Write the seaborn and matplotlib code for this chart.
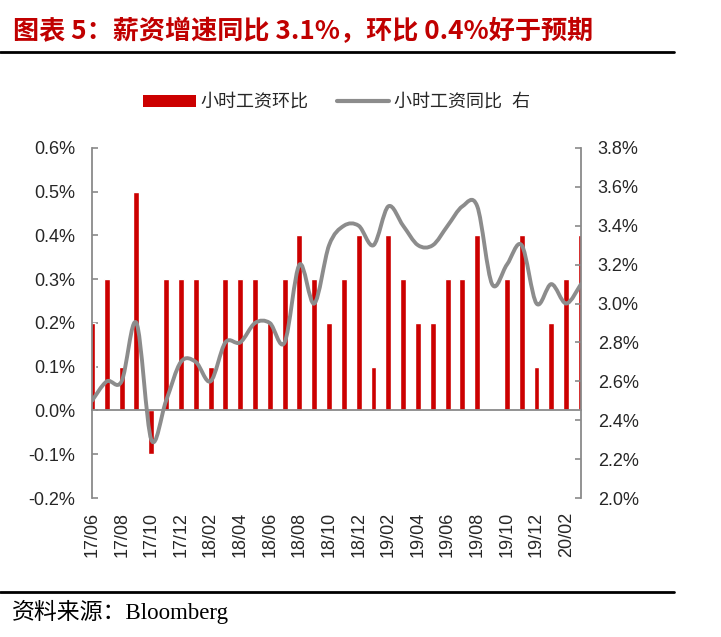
import numpy as np
import pandas as pd
import matplotlib
matplotlib.use('Agg')
import matplotlib.pyplot as plt
from matplotlib.path import Path
from matplotlib.patches import PathPatch, Patch
from matplotlib.lines import Line2D
from matplotlib.ticker import FuncFormatter, MultipleLocator
import seaborn as sns


# Monthly data
months = ['17/06', '17/07', '17/08', '17/09', '17/10', '17/11', '17/12',
          '18/01', '18/02', '18/03', '18/04', '18/05', '18/06', '18/07',
          '18/08', '18/09', '18/10', '18/11', '18/12', '19/01', '19/02',
          '19/03', '19/04', '19/05', '19/06', '19/07', '19/08', '19/09',
          '19/10', '19/11', '19/12', '20/01', '20/02', '20/03']
# hourly earnings, month over month (%), left axis
mom = [0.2, 0.3, 0.1, 0.5, -0.1, 0.3, 0.3,
       0.3, 0.1, 0.3, 0.3, 0.3, 0.2, 0.3,
       0.4, 0.3, 0.2, 0.3, 0.4, 0.1, 0.4,
       0.3, 0.2, 0.2, 0.3, 0.3, 0.4, 0.0,
       0.3, 0.4, 0.1, 0.2, 0.3, 0.4]
# hourly earnings, year over year (%), right axis
yoy = [2.5, 2.6, 2.6, 2.9, 2.3, 2.5, 2.7,
       2.7, 2.6, 2.8, 2.8, 2.9, 2.9, 2.8,
       3.2, 3.0, 3.3, 3.4, 3.4, 3.3, 3.5,
       3.4, 3.3, 3.3, 3.4, 3.5, 3.5, 3.1,
       3.2, 3.3, 3.0, 3.1, 3.0, 3.1]

legend_labels = ['小时工资环比', '小时工资同比  右']
title = '图表 5：薪资增速同比 3.1%，环比 0.4%好于预期'
source = '资料来源：Bloomberg'

red = '#cc0000'
grey = '#8c8c8c'
spine_grey = '#8a8a8a'

df = pd.DataFrame({'month': months, 'mom': mom, 'yoy': yoy})
n = len(df)

sns.set_style('white')
plt.rcParams['font.family'] = ['Liberation Sans', 'Noto Sans CJK SC']

fig = plt.figure(figsize=(7.21, 6.37), dpi=100)
ax = fig.add_axes([0.1276, 0.2182, 0.6782, 0.5495])

sns.barplot(data=df, x='month', y='mom', color=red, saturation=1,
            width=0.4, ax=ax)
ax.set_xlim(0, n - 1)
ax.set_ylim(-0.2, 0.6)
ax.yaxis.set_major_locator(MultipleLocator(0.1))
ax.yaxis.set_major_formatter(FuncFormatter(lambda v, p: f'{v:.1f}%'))
ax.set_xticks(range(0, n, 2))
ax.set_xticklabels(months[::2])
ax.set_xlabel('')
ax.set_ylabel('')

ax.spines['bottom'].set_position(('data', 0))
for s in ['top', 'right']:
    ax.spines[s].set_visible(False)
for s in ['left', 'bottom']:
    ax.spines[s].set_color(spine_grey)
    ax.spines[s].set_linewidth(1.3)
ax.tick_params(axis='x', direction='in', length=4, width=1.2,
               color=spine_grey, pad=73, labelsize=13, labelrotation=90)
ax.tick_params(axis='y', direction='in', length=4, width=1.2,
               color=spine_grey, pad=12, labelsize=13, left=True)

# Right axis: smoothed line (bezier segments through each data point)
ax2 = ax.twinx()
ax2.set_ylim(2.0, 3.8)
ax2.yaxis.set_major_locator(MultipleLocator(0.2))
ax2.yaxis.set_major_formatter(FuncFormatter(lambda v, p: f'{v:.1f}%'))
for s in ['top', 'left', 'bottom']:
    ax2.spines[s].set_visible(False)
ax2.spines['right'].set_color(spine_grey)
ax2.spines['right'].set_linewidth(1.3)
ax2.tick_params(axis='y', direction='in', length=4, width=1.2,
                color=spine_grey, pad=12, labelsize=13, right=True)

xs = np.arange(n, dtype=float)
ys = np.array(df['yoy'], dtype=float)
pts = np.column_stack([xs, ys])
verts = [tuple(pts[0])]
codes = [Path.MOVETO]
for i in range(n - 1):
    p0 = pts[i - 1] if i > 0 else pts[i]
    p1 = pts[i]
    p2 = pts[i + 1]
    p3 = pts[i + 2] if i + 2 < n else pts[i + 1]
    c1 = p1 + (p2 - p0) / 6
    c2 = p2 - (p3 - p1) / 6
    verts += [tuple(c1), tuple(c2), tuple(p2)]
    codes += [Path.CURVE4] * 3
ax2.add_patch(PathPatch(Path(verts, codes), fill=False, edgecolor=grey,
                        lw=2.8, capstyle='round', joinstyle='round'))

handles = [Patch(facecolor=red, edgecolor='none'),
           Line2D([], [], color=grey, lw=3)]
ax2.legend(handles, legend_labels, loc='center', bbox_to_anchor=(0.5, 1.13),
           ncol=2, frameon=False, fontsize=13, handlelength=2.9,
           handleheight=0.65, handletextpad=0.25, columnspacing=1.6)

# Title, rules and source
fig.text(13 / 721, 1 - 32 / 637, title, color='#c00000', fontsize=18.8,
         fontweight='bold', va='center', ha='left',
         family=['Noto Sans CJK SC'])
fig.add_artist(Line2D([0, 674 / 721], [1 - 52 / 637] * 2, color='black',
                      lw=2, transform=fig.transFigure))
fig.add_artist(Line2D([0, 674 / 721], [1 - 592 / 637] * 2, color='black',
                      lw=2, transform=fig.transFigure))
fig.text(12 / 721, 1 - 612 / 637, source, color='black', fontsize=16.5,
         va='center', ha='left', family=['Liberation Serif', 'Noto Sans CJK SC'])

plt.savefig('out.png', dpi=100)
